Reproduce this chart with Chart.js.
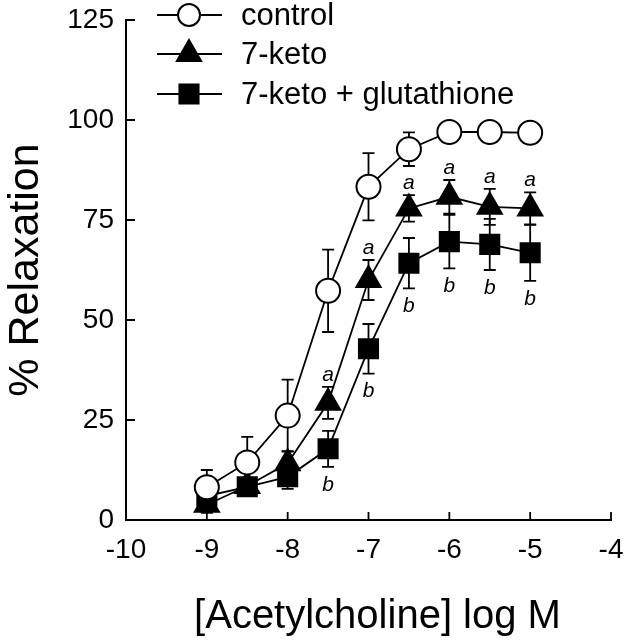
<!DOCTYPE html>
<html>
<head>
<meta charset="utf-8">
<script src="https://cdn.jsdelivr.net/npm/chart.js@4.4.0/dist/chart.umd.min.js"></script>
<style>
  html, body { margin: 0; padding: 0; background: #fff; }
  #c { display: block; }
</style>
</head>
<body>
<canvas id="c" width="627" height="640"></canvas>
<script>
// log M concentrations
const doses = [-9, -8.5, -8, -7.5, -7, -6.5, -6, -5.5, -5];

const controlMean = [8.2, 14.4, 26.1, 57.3, 83.3, 92.7, 97, 97, 96.8];
const controlErr  = [4.3, 6.4, 9, 10.3, 8.4, 4.2, 1, 1, 1];

const ketoMean = [3.8, 8.5, 14.2, 29.3, 60, 77.9, 80.8, 78.3, 77.9];
const ketoErr  = [2, 2, 3, 4, 5, 3.3, 4.2, 4.5, 4];
const ketoSig  = ['', '', '', 'a', 'a', 'a', 'a', 'a', 'a'];

const glutMean = [6, 8.3, 10.8, 17.8, 42.8, 64.2, 69.6, 68.9, 66.8];
const glutErr  = [2, 2, 3, 4.5, 6.2, 6.3, 6.7, 6.4, 7];
const glutSig  = ['', '', '', 'b', 'b', 'b', 'b', 'b', 'b'];

const xTicks = [-10, -9, -8, -7, -6, -5, -4];
const yTicks = [0, 25, 50, 75, 100, 125];
const xTitle = '[Acetylcholine] log M';

const FONT = '"Liberation Sans", Arial, Helvetica, sans-serif';

const series = [
  { label: 'control', mean: controlMean, err: controlErr, sig: null, style: 'circle', r: 12, fill: '#fff' },
  { label: '7-keto', mean: ketoMean, err: ketoErr, sig: ketoSig, style: 'triangle', r: 14, fill: '#000' },
  { label: '7-keto + glutathione', mean: glutMean, err: glutErr, sig: glutSig, style: 'rect', r: 13.5, fill: '#000' }
];

const pts = arr => arr.map((v, i) => ({ x: doses[i], y: v }));

// error bars go under the markers
const errorBars = {
  id: 'errorBars',
  beforeDatasetsDraw(chart) {
    const { ctx, scales: { x, y } } = chart;
    ctx.save();
    ctx.strokeStyle = '#000';
    ctx.lineWidth = 1.8;
    series.forEach(s => {
      s.mean.forEach((m, i) => {
        const px = x.getPixelForValue(doses[i]);
        const top = y.getPixelForValue(m + s.err[i]);
        const bot = y.getPixelForValue(m - s.err[i]);
        ctx.beginPath();
        ctx.moveTo(px, top); ctx.lineTo(px, bot);
        ctx.moveTo(px - 6, top); ctx.lineTo(px + 6, top);
        ctx.moveTo(px - 6, bot); ctx.lineTo(px + 6, bot);
        ctx.stroke();
      });
    });
    ctx.restore();
  }
};

// inward tick marks + significance letters + x title
const extras = {
  id: 'extras',
  afterDatasetsDraw(chart) {
    const { ctx, scales: { x, y }, chartArea: a } = chart;
    ctx.save();
    ctx.strokeStyle = '#000';
    ctx.lineWidth = 1.8;
    ctx.beginPath();
    xTicks.forEach(t => {
      const px = x.getPixelForValue(t);
      if (t === xTicks[0]) return;
      ctx.moveTo(px, a.bottom); ctx.lineTo(px, a.bottom - 8);
    });
    yTicks.forEach(t => {
      const py = y.getPixelForValue(t);
      if (t === 0) return;
      ctx.moveTo(a.left, py); ctx.lineTo(a.left + 9, py);
    });
    ctx.stroke();

    ctx.fillStyle = '#000';
    ctx.font = 'italic 21px ' + FONT;
    ctx.textAlign = 'center';
    ctx.textBaseline = 'middle';
    series.forEach(s => {
      if (!s.sig) return;
      s.sig.forEach((l, i) => {
        if (!l) return;
        const px = x.getPixelForValue(doses[i]);
        if (l === 'a') {
          ctx.fillText(l, px, y.getPixelForValue(s.mean[i] + s.err[i]) - 12);
        } else {
          ctx.fillText(l, px, y.getPixelForValue(s.mean[i] - s.err[i]) + 18);
        }
      });
    });

    ctx.font = '40px ' + FONT;
    ctx.textBaseline = 'alphabetic';
    ctx.fillText(xTitle, (a.left + a.right) / 2 + 9, 628);
    ctx.restore();
  }
};

// legend drawn with line through marker, like the figure
const legendBox = {
  id: 'legendBox',
  afterDraw(chart) {
    const { ctx } = chart;
    const rows = [15, 54, 94];
    ctx.save();
    ctx.font = '31px ' + FONT;
    ctx.textBaseline = 'middle';
    ctx.textAlign = 'left';
    series.forEach((s, i) => {
      const yy = rows[i];
      ctx.strokeStyle = '#000';
      ctx.lineWidth = 1.8;
      ctx.beginPath();
      ctx.moveTo(157, yy); ctx.lineTo(222, yy);
      ctx.stroke();
      ctx.fillStyle = s.fill;
      ctx.lineWidth = 2;
      Chart.helpers.drawPoint(ctx, { pointStyle: s.style, radius: s.style === 'circle' ? 11 : s.r, borderWidth: 2, rotation: 0 }, 189, yy);
      ctx.fillStyle = '#000';
      ctx.fillText(s.label, 241, yy + 1);
    });
    ctx.restore();
  }
};

new Chart(document.getElementById('c'), {
  type: 'line',
  data: {
    datasets: series.map(s => ({
      label: s.label,
      data: pts(s.mean),
      borderColor: '#000',
      borderWidth: 1.8,
      pointStyle: s.style,
      pointRadius: s.r,
      pointHoverRadius: s.r,
      pointBackgroundColor: s.fill,
      pointBorderColor: '#000',
      pointBorderWidth: 2,
      tension: 0,
      fill: false,
      clip: false
    }))
  },
  options: {
    responsive: false,
    animation: false,
    events: [],
    layout: { padding: { top: 20, right: 15, left: 0, bottom: 0 } },
    plugins: { legend: { display: false }, tooltip: { enabled: false } },
    scales: {
      x: {
        type: 'linear',
        min: -10,
        max: -4,
        afterBuildTicks: s => { s.ticks = xTicks.map(v => ({ value: v })); },
        ticks: { color: '#000', font: { family: FONT, size: 28 }, padding: 13 },
        grid: { display: false, drawTicks: false },
        border: { display: true, color: '#000', width: 2 },
        title: { display: false, text: xTitle },
        afterFit: s => { s.height = 120; s.paddingLeft = 0; s.paddingRight = 0; }
      },
      y: {
        min: 0,
        max: 125,
        afterBuildTicks: s => { s.ticks = yTicks.map(v => ({ value: v })); },
        ticks: { color: '#000', font: { family: FONT, size: 28 }, padding: 12 },
        grid: { display: false, drawTicks: false },
        border: { display: true, color: '#000', width: 2 },
        title: { display: true, text: '% Relaxation', color: '#000', font: { family: FONT, size: 43 }, padding: 0 },
        afterFit: s => { s.width = 126; s.paddingTop = 0; s.paddingBottom = 0; }
      }
    }
  },
  plugins: [errorBars, extras, legendBox]
});
</script>
</body>
</html>
